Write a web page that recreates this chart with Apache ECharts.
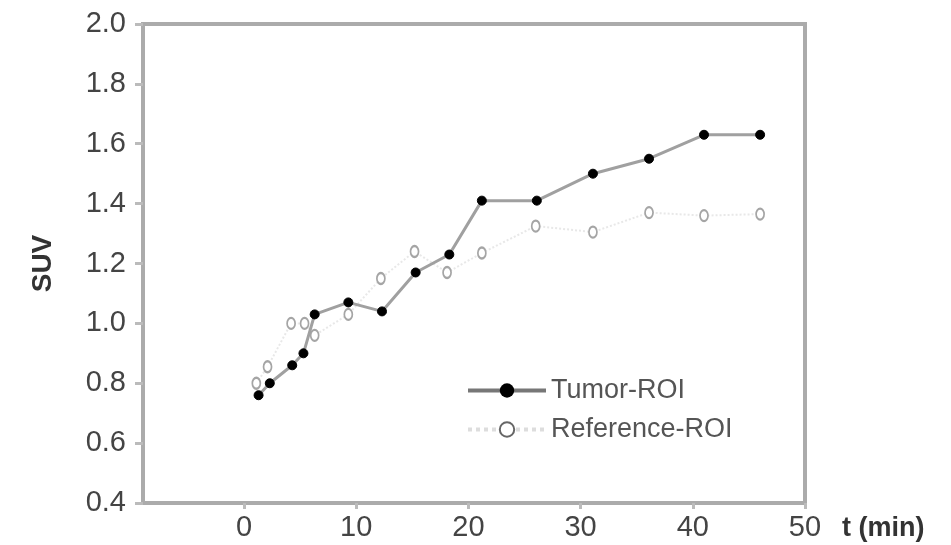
<!DOCTYPE html>
<html>
<head>
<meta charset="utf-8">
<script src="https://cdn.jsdelivr.net/npm/echarts@6/dist/echarts.min.js"></script>
<style>
html,body{margin:0;padding:0;background:#fff;}
#c{width:951px;height:545px;}
</style>
</head>
<body>
<div id="c"></div>
<script>
// Data
var timesMin = [1.3, 2.3, 4.3, 5.3, 6.3, 9.3, 12.3, 15.3, 18.3, 21.2, 26.1, 31.1, 36.1, 41.0, 46.0];
var tumorSUV = [0.76, 0.80, 0.86, 0.90, 1.03, 1.07, 1.04, 1.17, 1.23, 1.41, 1.41, 1.50, 1.55, 1.63, 1.63];
var refTimesMin = [1.1, 2.1, 4.2, 5.4, 6.3, 9.3, 12.2, 15.2, 18.1, 21.2, 26.0, 31.1, 36.1, 41.0, 46.0];
var referenceSUV = [0.80, 0.855, 1.00, 1.00, 0.96, 1.03, 1.15, 1.24, 1.17, 1.235, 1.325, 1.305, 1.37, 1.36, 1.365];
var xTickValues = [0, 10, 20, 30, 40, 50];
var seriesNames = ['Tumor-ROI', 'Reference-ROI'];

function pairs(xs, ys) { return xs.map(function (x, i) { return [x, ys[i]]; }); }

var font = 'Liberation Sans, Arial, sans-serif';
var axisGray = '#ababab';

var chart = echarts.init(document.getElementById('c'));
chart.setOption({
  animation: false,
  backgroundColor: '#fff',
  grid: { left: 143, top: 24, right: 146, bottom: 42, show: true, borderColor: axisGray, borderWidth: 4, containLabel: false },
  legend: {
    orient: 'vertical',
    left: 461, top: 372,
    itemWidth: 78, itemHeight: 18, itemGap: 12,
    textStyle: { fontFamily: font, fontSize: 27, color: '#555' },
    data: [
      { name: seriesNames[0], lineStyle: { color: '#777', width: 4 }, itemStyle: { color: '#000' } },
      { name: seriesNames[1], lineStyle: { color: '#ddd', width: 4, type: 'dotted' }, itemStyle: { color: '#666', borderColor: '#666', borderWidth: 3 } }
    ]
  },
  xAxis: {
    type: 'value',
    min: -9, max: 50,
    name: 't (min)',
    nameLocation: 'end',
    nameGap: 37,
    nameTextStyle: { fontFamily: font, fontSize: 27, fontWeight: 'bold', color: '#333', verticalAlign: 'top', padding: [12, 0, 0, 0] },
    axisLine: { show: true, onZero: false, lineStyle: { color: axisGray, width: 4 } },
    axisTick: { show: true, customValues: xTickValues, length: 6, lineStyle: { color: '#bbb', width: 3 } },
    axisLabel: { customValues: xTickValues, fontFamily: font, fontSize: 29, color: '#444', margin: 10 },
    splitLine: { show: false }
  },
  yAxis: {
    type: 'value',
    min: 0.4, max: 2.0, interval: 0.2,
    name: 'SUV',
    nameLocation: 'middle',
    nameGap: 86,
    nameRotate: 90,
    nameTextStyle: { fontFamily: font, fontSize: 28, fontWeight: 'bold', color: '#333' },
    axisLine: { show: true, onZero: false, lineStyle: { color: axisGray, width: 4 } },
    axisTick: { show: true, length: 8, lineStyle: { color: '#bbb', width: 3 } },
    axisLabel: { fontFamily: font, fontSize: 29, color: '#444', margin: 17, formatter: function (v) { return v.toFixed(1); } },
    splitLine: { show: false }
  },
  series: [
    {
      name: seriesNames[0],
      type: 'line',
      data: pairs(timesMin, tumorSUV),
      symbol: 'circle',
      symbolSize: 9,
      lineStyle: { color: '#a0a0a0', width: 3 },
      itemStyle: { color: '#000', borderColor: '#000' },
      z: 3
    },
    {
      name: seriesNames[1],
      type: 'line',
      data: pairs(refTimesMin, referenceSUV),
      symbol: 'emptyCircle',
      symbolSize: [8, 11],
      lineStyle: { color: '#e8e8e8', width: 2, type: 'dotted' },
      itemStyle: { color: '#a5a5a5', borderColor: '#a5a5a5', borderWidth: 2 },
      z: 2
    }
  ]
});
</script>
</body>
</html>
